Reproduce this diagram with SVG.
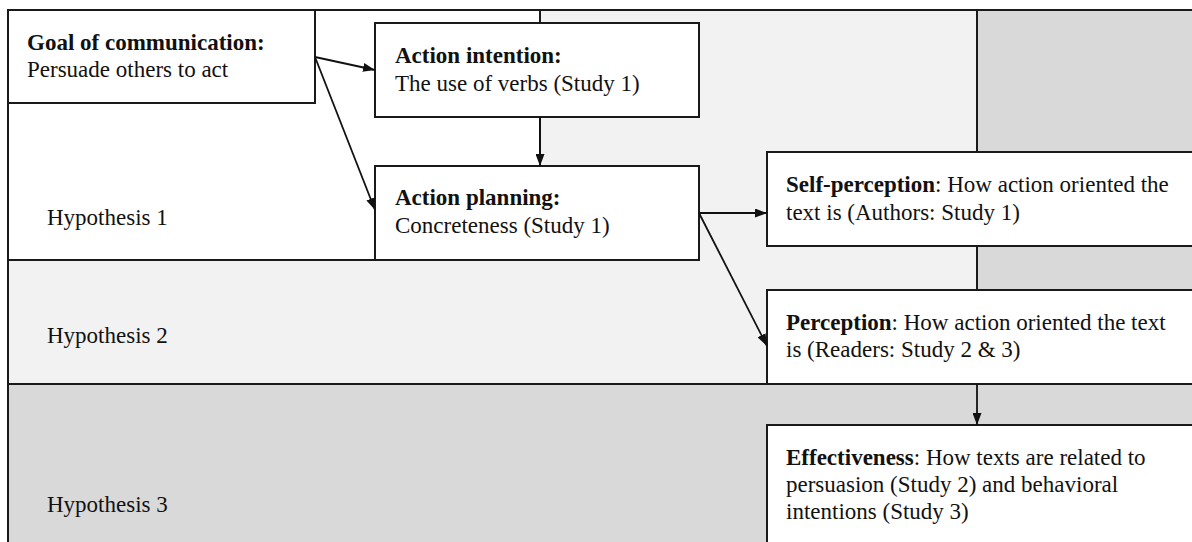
<svg xmlns="http://www.w3.org/2000/svg" width="1192" height="542" viewBox="0 0 1192 542">
<style>
.region{stroke:#1a1a1a;stroke-width:2}
.box{fill:#ffffff;stroke:#1a1a1a;stroke-width:2}
text{font-family:"Liberation Serif","Times New Roman",serif;font-size:23px;fill:#111}
.b{font-weight:bold}
.conn{stroke:#111;stroke-width:1.8;fill:none;marker-end:url(#arr)}
</style>
<defs>
<marker id="arr" markerUnits="userSpaceOnUse" markerWidth="12" markerHeight="9" refX="12" refY="4.5" orient="auto">
<path d="M0,0 L12,4.5 L0,9 z" fill="#111"/>
</marker>
</defs>
<rect width="1192" height="542" fill="#ffffff"/>
<g id="hypothesis3">
<rect class="region" x="8" y="10" width="1300" height="700" fill="#d9d9d9"/>
<text x="47" y="512">Hypothesis 3</text>
</g>
<g id="hypothesis2">
<rect class="region" x="8" y="10" width="969" height="374" fill="#f2f2f2"/>
<text x="47" y="343">Hypothesis 2</text>
</g>
<g id="hypothesis1">
<rect class="region" x="8" y="10" width="532" height="250" fill="#ffffff"/>
<text x="47" y="225">Hypothesis 1</text>
</g>
<g id="goal">
<rect class="box" x="8" y="10" width="307" height="93"/>
<text x="27" y="50" class="b">Goal of communication:</text>
<text x="27" y="77">Persuade others to act</text>
</g>
<g id="action-intention">
<rect class="box" x="375" y="23" width="324" height="94"/>
<text x="395" y="63" class="b">Action intention:</text>
<text x="395" y="91">The use of verbs (Study 1)</text>
</g>
<g id="action-planning">
<rect class="box" x="375" y="166" width="324" height="94"/>
<text x="395" y="205" class="b">Action planning:</text>
<text x="395" y="233">Concreteness (Study 1)</text>
</g>
<g id="self-perception">
<rect class="box" x="767" y="152" width="600" height="94"/>
<text x="786" y="192"><tspan class="b">Self-perception</tspan>: How action oriented the</text>
<text x="786" y="220">text is (Authors: Study 1)</text>
</g>
<g id="perception">
<rect class="box" x="767" y="290" width="600" height="94"/>
<text x="786" y="330"><tspan class="b">Perception</tspan>: How action oriented the text</text>
<text x="786" y="357">is (Readers: Study 2 &amp; 3)</text>
</g>
<g id="effectiveness">
<rect class="box" x="767" y="425" width="600" height="300"/>
<text x="786" y="465"><tspan class="b">Effectiveness</tspan>: How texts are related to</text>
<text x="786" y="492">persuasion (Study 2) and behavioral</text>
<text x="786" y="519">intentions (Study 3)</text>
</g>
<g id="connectors">
<line class="conn" x1="315" y1="57" x2="375" y2="70"/>
<line class="conn" x1="315" y1="57" x2="375" y2="210"/>
<line class="conn" x1="540" y1="117" x2="540" y2="166"/>
<line class="conn" x1="699" y1="213" x2="767" y2="213"/>
<line class="conn" x1="699" y1="213" x2="767" y2="346"/>
<line class="conn" x1="977" y1="384" x2="977" y2="425"/>
</g>
</svg>
